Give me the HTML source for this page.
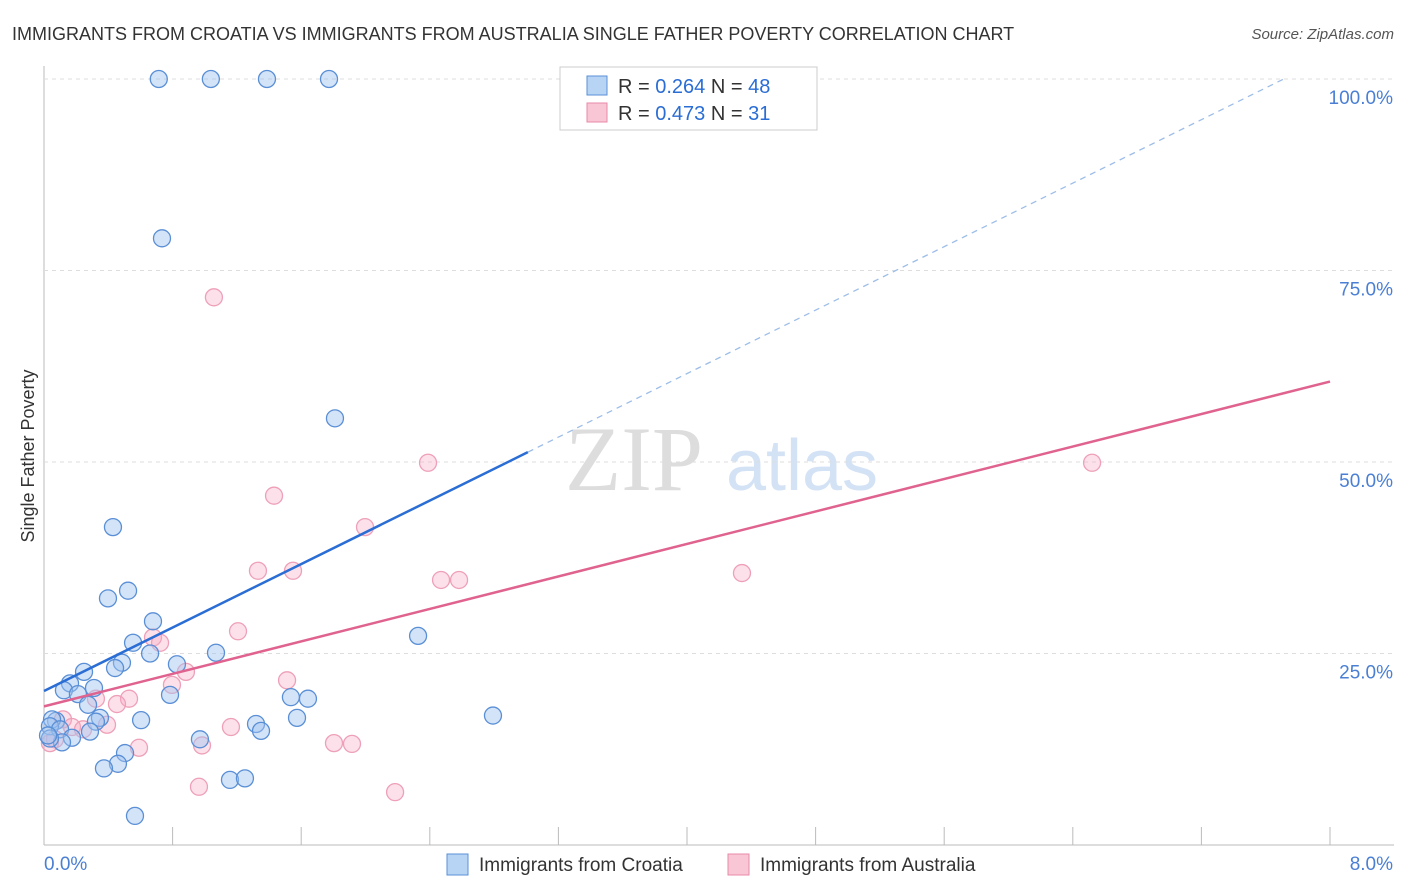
<!DOCTYPE html>
<html><head><meta charset="utf-8"><style>
body{margin:0;background:#fff;font-family:"Liberation Sans",sans-serif;}
#c{position:absolute;left:0;top:0;}
</style></head><body>
<svg id="c" width="1406" height="892" xmlns="http://www.w3.org/2000/svg">
<text x="12" y="40" font-size="18" fill="#333">IMMIGRANTS FROM CROATIA VS IMMIGRANTS FROM AUSTRALIA SINGLE FATHER POVERTY CORRELATION CHART</text>
<text x="1394" y="39" font-size="15" fill="#555" font-style="italic" text-anchor="end">Source: ZipAtlas.com</text>
<text x="634" y="490" font-size="92" fill="#ddd" font-family="Liberation Serif" text-anchor="middle">ZIP</text>
<text x="802" y="490" font-size="72" fill="#d4e2f5" text-anchor="middle">atlas</text>
<text transform="translate(34,456) rotate(-90)" font-size="18" fill="#333" text-anchor="middle">Single Father Poverty</text>
<g id="grid"></g><g id="pts"></g><g id="lines"></g>
<g>
<rect x="560" y="67" width="257" height="63" fill="#fff" stroke="#ccc"/>
<rect x="587" y="76" width="20" height="19" fill="#b8d4f5" stroke="#5a8fd6"/>
<rect x="587" y="103" width="20" height="19" fill="#f9c6d5" stroke="#e88aa8"/>
<text x="618" y="93" font-size="20" fill="#333">R = <tspan fill="#2a6dd4">0.264</tspan>   N = <tspan fill="#2a6dd4">48</tspan></text>
<text x="618" y="120" font-size="20" fill="#333">R = <tspan fill="#2a6dd4">0.473</tspan>   N =  <tspan fill="#2a6dd4">31</tspan></text>
</g>
<g>
<rect x="447" y="854" width="21" height="21" fill="#b8d4f5" stroke="#5a8fd6"/>
<text x="479" y="871" font-size="19" fill="#333">Immigrants from Croatia</text>
<rect x="728" y="854" width="21" height="21" fill="#f9c6d5" stroke="#e88aa8"/>
<text x="760" y="871" font-size="19" fill="#333">Immigrants from Australia</text>
</g>
</svg>
<script>
const yTicks=[25,50,75,100];
const xTickLabels=["0.0%","8.0%"];
const croatiaX=[0.714,1.038,1.387,1.773,0.734,1.810,0.429,0.523,0.398,0.678,0.554,0.660,1.070,0.827,0.485,0.442,0.249,0.162,0.124,0.311,0.211,0.784,0.274,0.348,0.323,0.604,0.075,0.050,0.037,0.100,0.286,0.174,0.112,0.037,0.025,0.504,0.460,0.373,0.970,1.319,1.350,1.536,1.642,1.574,2.327,2.793,1.157,1.250,0.566];
const croatiaY=[100,100,100,100,79.2,55.7,41.5,33.2,32.2,29.2,26.4,25.0,25.1,23.6,23.8,23.1,22.6,21.1,20.2,20.5,19.7,19.6,18.3,16.6,16.1,16.3,16.2,16.4,15.5,15.1,14.8,14.0,13.4,13.9,14.3,12.0,10.6,10.0,13.8,15.8,14.9,19.3,19.1,16.6,27.3,16.9,8.5,8.7,3.8];
const australiaX=[1.057,2.389,6.520,1.431,1.997,1.331,1.549,2.470,2.582,4.342,1.207,0.678,0.722,0.883,0.796,1.512,0.529,0.454,0.323,0.118,0.174,0.392,0.243,0.068,0.037,0.591,0.983,1.163,1.804,1.916,0.964,2.184];
const australiaY=[71.5,49.9,49.9,45.6,41.5,35.8,35.8,34.6,34.6,35.5,27.9,27.1,26.4,22.6,20.9,21.5,19.1,18.4,19.1,16.4,15.4,15.7,15.1,13.8,13.3,12.7,13.0,15.4,13.3,13.2,7.6,6.9];
const blueTrend=[20.1,10.36,3.01];  // intercept, slope, solid end x
const pinkTrend=[18.1,60.5];       // y at 0%, y at 8%
const NS="http://www.w3.org/2000/svg";
const X0=44,XR=1330,YB=845,YT=79;
const sx=v=>X0+(XR-X0)*v/8, sy=v=>YB-(YB-YT)*v/100;
function mk(t,a,p){const e=document.createElementNS(NS,t);for(const k in a)e.setAttribute(k,a[k]);p.appendChild(e);return e;}
const g=document.getElementById('grid');
mk('line',{x1:X0,y1:66,x2:X0,y2:YB,stroke:'#bbb'},g);
mk('line',{x1:X0,y1:YB,x2:1394,y2:YB,stroke:'#bbb'},g);
yTicks.forEach(t=>{
 const l=mk('line',{x1:X0,y1:sy(t),x2:1394,y2:sy(t),stroke:'#ddd','stroke-dasharray':'4,4'},g);
 
 
 const tx=mk('text',{x:1393,y:sy(t)+25,'font-size':19,fill:'#4a7fd4','text-anchor':'end'},g);tx.textContent=t.toFixed(1)+'%';
 
 
});
for(let i=0;i<=10;i++){const x=sx(i*0.8);mk('line',{x1:x,y1:YB,x2:x,y2:YB-18,stroke:'#bbb'},g);}
const a=mk('text',{x:44,y:870,'font-size':19,fill:'#4a7fd4'},g);a.textContent=xTickLabels[0];


const b=mk('text',{x:1393,y:870,'font-size':19,fill:'#4a7fd4','text-anchor':'end'},g);b.textContent=xTickLabels[1];


const p=document.getElementById('pts');
australiaX.forEach((v,i)=>{const c=mk('circle',{cx:sx(v),cy:sy(australiaY[i]),r:8.5,fill:'rgba(245,170,195,0.35)',stroke:'#eea0b8','stroke-width':1.3},p);
 
 });
croatiaX.forEach((v,i)=>{const c=mk('circle',{cx:sx(v),cy:sy(croatiaY[i]),r:8.5,fill:'rgba(160,195,240,0.45)',stroke:'#5a8fd6','stroke-width':1.3},p);
 
 });
const L=document.getElementById('lines');
const by=x=>blueTrend[0]+blueTrend[1]*x;
const xEnd=(100-blueTrend[0])/blueTrend[1];
const l1=mk('line',{x1:sx(0),y1:sy(by(0)),x2:sx(blueTrend[2]),y2:sy(by(blueTrend[2])),stroke:'#2a6dd4','stroke-width':2.5},L);


const l2=mk('line',{x1:sx(blueTrend[2]),y1:sy(by(blueTrend[2])),x2:sx(xEnd),y2:sy(100),stroke:'#9dbde8','stroke-width':1.3,'stroke-dasharray':'6,5'},L);


const l3=mk('line',{x1:sx(0),y1:sy(pinkTrend[0]),x2:sx(8),y2:sy(pinkTrend[1]),stroke:'#e0628e','stroke-width':2.5},L);


</script>
</body></html>
